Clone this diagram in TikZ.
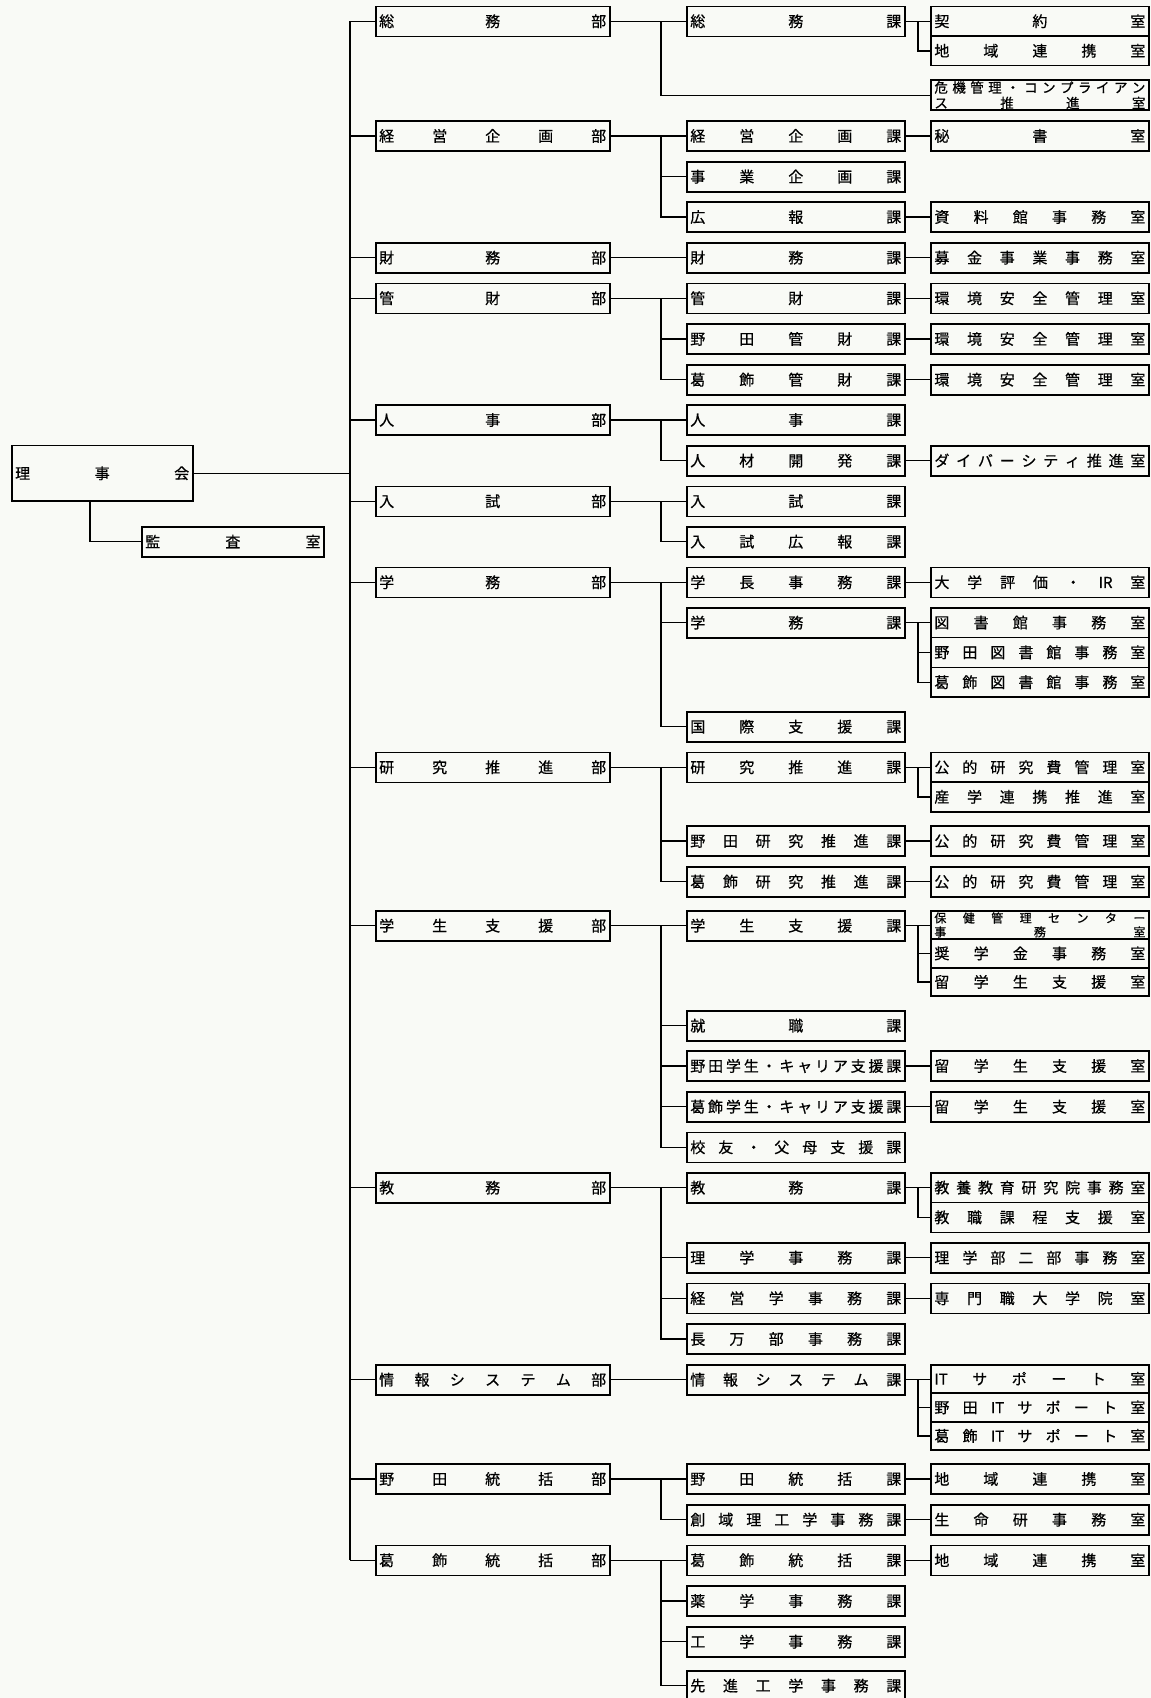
\documentclass[tikz,border=0pt]{standalone}
\usepackage{fontspec}
\setmainfont{Noto Sans CJK JP}[FakeBold=0.6]
\usepackage{tikz}

\definecolor{paper}{RGB}{249,250,246}

% spread the characters of a label over the whole box
\makeatletter
\newcommand\spreadchars[1]{\def\spr@sep{}\@tfor\spr@ch:=#1\do{\spr@sep\spr@ch\def\spr@sep{\hfill}}}
\makeatother
\newcommand\lab[2]{\hbox to #1pt{\spreadchars{#2}}}

\begin{document}
\begin{tikzpicture}[x=1pt, y=-1pt,
  frame/.style={draw, line width=1.6pt, inner xsep=3.5pt, inner ysep=0pt, minimum height=30pt},
  box/.style={frame, text height=12.4pt, text depth=1.1pt, font=\fontsize{15}{18}\selectfont},
  link/.style={line width=1.4pt}]

\useasboundingbox (0,0) rectangle (1151,1698);
\fill[paper] (0,0) rectangle (1151,1698);
\clip (0,0) rectangle (1151,1698);

\coordinate (tk) at (350,0);
\coordinate (br) at (661,0);
\coordinate (sb) at (918,0);
\coordinate (kd) at (90,0);

% board and audit
\node[box, minimum height=55.3pt] (riji) at (102.2,473.3) {\lab{174}{理事会}};
\node[box] (kansa) at (232.9,541.7) {\lab{175.3}{監査室}};

% departments
\node[box] (somubu) at (492.7,21.3) {\lab{227}{総務部}};
\node[box] (keieibu) at (492.7,136) {\lab{227}{経営企画部}};
\node[box] (zaimubu) at (492.7,257.7) {\lab{227}{財務部}};
\node[box] (kanzaibu) at (492.7,298.3) {\lab{227}{管財部}};
\node[box] (jinjibu) at (492.7,420) {\lab{227}{人事部}};
\node[box] (nyushibu) at (492.7,501.3) {\lab{227}{入試部}};
\node[box] (gakumubu) at (492.7,582.3) {\lab{227}{学務部}};
\node[box] (kenkyubu) at (492.7,767.3) {\lab{227}{研究推進部}};
\node[box] (gakuseibu) at (492.7,925.7) {\lab{227}{学生支援部}};
\node[box] (kyomubu) at (492.7,1187.7) {\lab{227}{教務部}};
\node[box] (johobu) at (492.7,1379.7) {\lab{227}{情報システム部}};
\node[box] (nodabu) at (492.7,1479) {\lab{227}{野田統括部}};
\node[box] (katsubu) at (492.7,1560.3) {\lab{227}{葛飾統括部}};

% sections
\node[box] (somuka) at (795.8,21.3) {\lab{211}{総務課}};
\node[box] (keieika) at (795.8,136) {\lab{211}{経営企画課}};
\node[box] (jigyoka) at (795.8,176.7) {\lab{211}{事業企画課}};
\node[box] (kohoka) at (795.8,217) {\lab{211}{広報課}};
\node[box] (zaimuka) at (795.8,257.7) {\lab{211}{財務課}};
\node[box] (kanzaika) at (795.8,298.3) {\lab{211}{管財課}};
\node[box] (nodakanzaika) at (795.8,339) {\lab{211}{野田管財課}};
\node[box] (katsukanzaika) at (795.8,379.7) {\lab{211}{葛飾管財課}};
\node[box] (jinjika) at (795.8,420) {\lab{211}{人事課}};
\node[box] (jinzaika) at (795.8,460.7) {\lab{211}{人材開発課}};
\node[box] (nyushika) at (795.8,501.3) {\lab{211}{入試課}};
\node[box] (nyushikohoka) at (795.8,541.7) {\lab{211}{入試広報課}};
\node[box] (gakuchoka) at (795.8,582.3) {\lab{211}{学長事務課}};
\node[box] (gakumuka) at (795.8,622.7) {\lab{211}{学務課}};
\node[box] (kokusaika) at (795.8,726.7) {\lab{211}{国際支援課}};
\node[box] (kenkyuka) at (795.8,767.3) {\lab{211}{研究推進課}};
\node[box] (nodakenkyuka) at (795.8,841) {\lab{211}{野田研究推進課}};
\node[box] (katsukenkyuka) at (795.8,881.7) {\lab{211}{葛飾研究推進課}};
\node[box] (gakuseika) at (795.8,925.7) {\lab{211}{学生支援課}};
\node[box] (shushokuka) at (795.8,1025.7) {\lab{211}{就職課}};
\node[box] (nodacareerka) at (795.8,1066) {\lab{211}{野田学生・キャリア支援課}};
\node[box] (katsucareerka) at (795.8,1106.7) {\lab{211}{葛飾学生・キャリア支援課}};
\node[box] (koyuka) at (795.8,1147.3) {\lab{211}{校友・父母支援課}};
\node[box] (kyomuka) at (795.8,1187.7) {\lab{211}{教務課}};
\node[box] (rigakuka) at (795.8,1257.7) {\lab{211}{理学事務課}};
\node[box] (keieigakuka) at (795.8,1298.3) {\lab{211}{経営学事務課}};
\node[box] (oshamanbeka) at (795.8,1339) {\lab{211}{長万部事務課}};
\node[box] (johoka) at (795.8,1379.7) {\lab{211}{情報システム課}};
\node[box] (nodatokatsuka) at (795.8,1479) {\lab{211}{野田統括課}};
\node[box] (soikika) at (795.8,1519.7) {\lab{211}{創域理工学事務課}};
\node[box] (katsutokatsuka) at (795.8,1560.3) {\lab{211}{葛飾統括課}};
\node[box] (yakugakuka) at (795.8,1601) {\lab{211}{薬学事務課}};
\node[box] (kogakuka) at (795.8,1641.7) {\lab{211}{工学事務課}};
\node[box] (senshinka) at (795.8,1685.7) {\lab{211}{先進工学事務課}};

% offices
\node[box, minimum height=29.5pt] (keiyaku) at (1039.9,21.3) {\lab{211}{契約室}};
\node[box, minimum height=29.5pt] (chiiki1) at (1039.9,50.8) {\lab{211}{地域連携室}};
\node[frame, font=\fontsize{13.5}{15.5}\selectfont] (kiki) at (1039.9,95.2) {\vbox{\lab{211}{危機管理・コンプライアン}\lab{211}{ス推進室}}};
\node[box] (hisho) at (1039.9,136) {\lab{211}{秘書室}};
\node[box] (shiryokan) at (1039.9,217) {\lab{211}{資料館事務室}};
\node[box] (bokin) at (1039.9,257.7) {\lab{211}{募金事業事務室}};
\node[box] (kankyo1) at (1039.9,298.3) {\lab{211}{環境安全管理室}};
\node[box] (kankyo2) at (1039.9,339) {\lab{211}{環境安全管理室}};
\node[box] (kankyo3) at (1039.9,379.7) {\lab{211}{環境安全管理室}};
\node[box] (diversity) at (1039.9,460.7) {\lab{211}{ダイバーシティ推進室}};
\node[box] (hyoka) at (1039.9,582.3) {\lab{211}{大学評価・{IR}室}};
\node[box, minimum height=29.8pt] (tosho) at (1039.9,622.6) {\lab{211}{図書館事務室}};
\node[box, minimum height=29.8pt] (nodatosho) at (1039.9,652.4) {\lab{211}{野田図書館事務室}};
\node[box, minimum height=29.8pt] (katsutosho) at (1039.9,682.2) {\lab{211}{葛飾図書館事務室}};
\node[box, minimum height=29.7pt] (kohi1) at (1039.9,767.2) {\lab{211}{公的研究費管理室}};
\node[box, minimum height=29.7pt] (sangaku) at (1039.9,796.9) {\lab{211}{産学連携推進室}};
\node[box] (kohi2) at (1039.9,841) {\lab{211}{公的研究費管理室}};
\node[box] (kohi3) at (1039.9,881.7) {\lab{211}{公的研究費管理室}};
\node[frame, minimum height=28.5pt, font=\fontsize{12}{14}\selectfont] (hoken) at (1039.9,924.95) {\vbox{\lab{211}{保健管理センター}\lab{211}{事務室}}};
\node[box, minimum height=28.5pt] (shogaku) at (1039.9,953.45) {\lab{211}{奨学金事務室}};
\node[box, minimum height=28.5pt] (ryugaku1) at (1039.9,981.95) {\lab{211}{留学生支援室}};
\node[box] (ryugaku2) at (1039.9,1066) {\lab{211}{留学生支援室}};
\node[box] (ryugaku3) at (1039.9,1106.7) {\lab{211}{留学生支援室}};
\node[box, minimum height=29.8pt] (kyoyo) at (1039.9,1187.6) {\lab{211}{教養教育研究院事務室}};
\node[box, minimum height=29.8pt] (kyoshoku) at (1039.9,1217.4) {\lab{211}{教職課程支援室}};
\node[box] (rigakubu) at (1039.9,1257.7) {\lab{211}{理学部二部事務室}};
\node[box] (senmon) at (1039.9,1298.3) {\lab{211}{専門職大学院室}};
\node[box, minimum height=28.5pt] (it1) at (1039.9,1378.95) {\lab{211}{{IT}サポート室}};
\node[box, minimum height=28.5pt] (it2) at (1039.9,1407.45) {\lab{211}{野田{IT}サポート室}};
\node[box, minimum height=28.5pt] (it3) at (1039.9,1435.95) {\lab{211}{葛飾{IT}サポート室}};
\node[box] (chiiki2) at (1039.9,1479) {\lab{211}{地域連携室}};
\node[box] (seimei) at (1039.9,1519.7) {\lab{211}{生命研事務室}};
\node[box] (chiiki3) at (1039.9,1560.3) {\lab{211}{地域連携室}};

% trunk
\draw[link] (riji.east) -- (riji.east -| tk);
\draw[link] (riji.south -| kd) |- (kansa.west);
\draw[link] (somubu.west -| tk) -- (katsubu.west -| tk);
\foreach \b in {somubu,keieibu,zaimubu,kanzaibu,jinjibu,nyushibu,gakumubu,kenkyubu,gakuseibu,kyomubu,johobu,nodabu,katsubu}
  \draw[link] (\b.west -| tk) -- (\b.west);

% departments to sections
\foreach \b/\f in {somubu/somuka,keieibu/keieika,zaimubu/zaimuka,kanzaibu/kanzaika,jinjibu/jinjika,nyushibu/nyushika,gakumubu/gakuchoka,kenkyubu/kenkyuka,gakuseibu/gakuseika,kyomubu/kyomuka,johobu/johoka,nodabu/nodatokatsuka,katsubu/katsutokatsuka}
  \draw[link] (\b.east) -- (\f.west);
\foreach \f/\l in {somuka/kiki,keieika/kohoka,kanzaika/katsukanzaika,jinjika/jinzaika,nyushika/nyushikohoka,gakuchoka/kokusaika,kenkyuka/katsukenkyuka,gakuseika/koyuka,kyomuka/oshamanbeka,nodatokatsuka/soikika,katsutokatsuka/senshinka}
  \draw[link] (\f.west -| br) |- (\l.west);
\foreach \k in {jigyoka,nodakanzaika,gakumuka,nodakenkyuka,shushokuka,nodacareerka,katsucareerka,rigakuka,keieigakuka,yakugakuka,kogakuka}
  \draw[link] (\k.west -| br) -- (\k.west);

% sections to offices
\foreach \a/\b in {keieika/hisho,kohoka/shiryokan,zaimuka/bokin,kanzaika/kankyo1,nodakanzaika/kankyo2,katsukanzaika/kankyo3,jinzaika/diversity,gakuchoka/hyoka,nodakenkyuka/kohi2,katsukenkyuka/kohi3,nodacareerka/ryugaku2,katsucareerka/ryugaku3,rigakuka/rigakubu,keieigakuka/senmon,nodatokatsuka/chiiki2,soikika/seimei,katsutokatsuka/chiiki3}
  \draw[link] (\a.east) -- (\a.east -| \b.west);
\foreach \a/\f/\l in {somuka/keiyaku/chiiki1,gakumuka/tosho/katsutosho,kenkyuka/kohi1/sangaku,gakuseika/hoken/ryugaku1,kyomuka/kyoyo/kyoshoku,johoka/it1/it3} {
  \draw[link] (\a.east) -- (\a.east -| \f.west);
  \draw[link] (\a.east -| sb) |- (\l.west);
}
\foreach \m in {nodatosho,shogaku,it2}
  \draw[link] (\m.west -| sb) -- (\m.west);

\end{tikzpicture}
\end{document}
